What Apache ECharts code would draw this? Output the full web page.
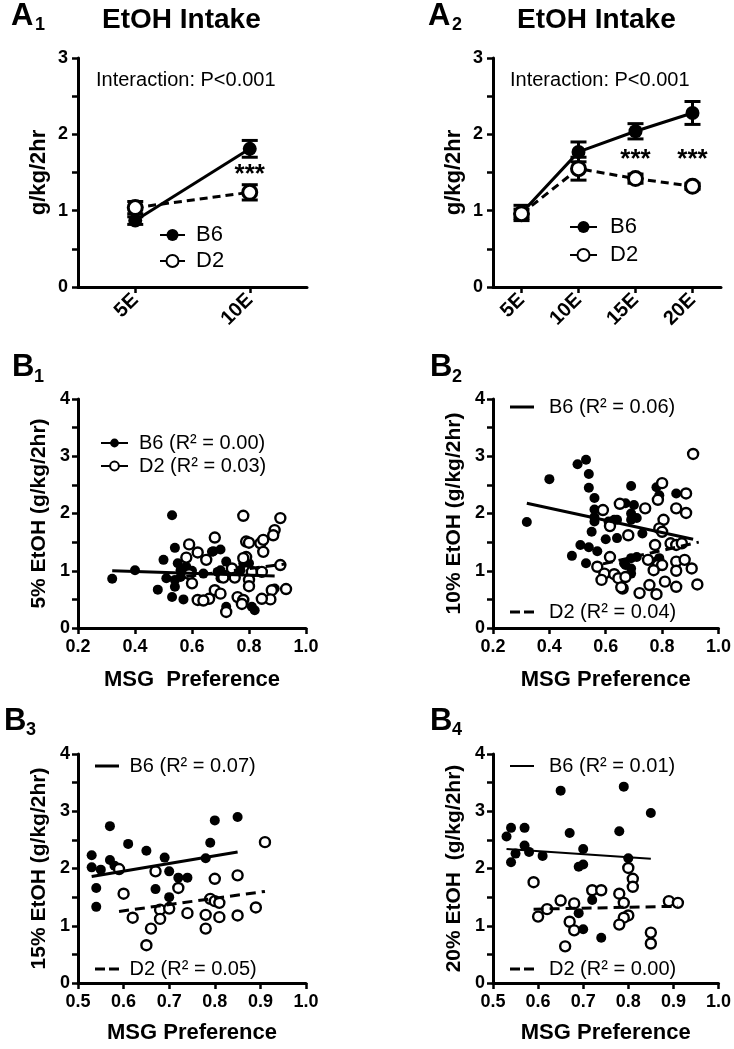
<!DOCTYPE html>
<html><head><meta charset="utf-8">
<script src="https://cdn.jsdelivr.net/npm/echarts@6/dist/echarts.min.js"></script>
<style>html,body{margin:0;padding:0;background:#fff}#c{width:734px;height:1049px}</style>
</head><body><div id="c"></div>
<script>
const FONT = "'Liberation Sans', Arial, Helvetica, sans-serif";

// ---------- A1 ----------
const a1Categories = ['5E', '10E'];
const a1B6Mean = [0.87, 1.81];
const a1B6Err = [0.05, 0.11];
const a1D2Mean = [1.04, 1.24];
const a1D2Err = [0.08, 0.10];
const a1Stars = [['10E', 1.47]];

// ---------- A2 ----------
const a2Categories = ['5E', '10E', '15E', '20E'];
const a2B6Mean = [0.97, 1.77, 2.04, 2.28];
const a2B6Err = [0.10, 0.13, 0.10, 0.15];
const a2D2Mean = [0.96, 1.55, 1.42, 1.32];
const a2D2Err = [0.06, 0.15, 0.06, 0.04];
const a2Stars = [['15E', 1.67], ['20E', 1.67]];

// ---------- B1 (5% EtOH) ----------
const b1B6 = [[0.32,0.86],[0.40,1.01],[0.48,0.67],[0.50,1.19],[0.51,0.87],[0.53,1.97],[0.53,0.54],[0.54,1.40],[0.54,0.84],[0.54,0.72],[0.55,1.13],[0.56,0.89],[0.56,1.01],[0.57,0.50],[0.58,1.07],[0.58,0.95],[0.60,1.00],[0.64,0.95],[0.67,1.33],[0.675,1.34],[0.69,0.98],[0.70,1.37],[0.70,1.01],[0.70,0.87],[0.72,1.16],[0.72,0.37],[0.77,1.01],[0.78,1.13],[0.80,1.13],[0.81,0.37],[0.82,0.31],[0.89,0.69]];
const b1D2 = [[0.59,1.46],[0.62,1.32],[0.58,1.23],[0.65,1.19],[0.68,1.58],[0.59,0.94],[0.60,0.78],[0.62,0.49],[0.66,0.51],[0.68,0.66],[0.64,0.48],[0.78,1.96],[0.91,1.92],[0.89,1.71],[0.885,1.62],[0.79,1.51],[0.80,1.49],[0.84,1.48],[0.85,1.54],[0.85,1.33],[0.79,1.24],[0.78,1.22],[0.91,1.10],[0.74,1.04],[0.81,0.98],[0.845,0.98],[0.75,0.88],[0.80,0.84],[0.80,0.73],[0.93,0.68],[0.88,0.66],[0.875,0.50],[0.76,0.54],[0.78,0.49],[0.845,0.51],[0.775,0.42],[0.72,0.28],[0.70,0.60],[0.71,0.88]];
const b1B6Fit = [[0.32,1.00],[0.89,0.91]];
const b1D2Fit = [[0.58,0.90],[0.93,1.12]];

// ---------- B2 (10% EtOH) ----------
const b2B6 = [[0.32,1.85],[0.40,2.60],[0.50,2.86],[0.53,2.94],[0.54,2.69],[0.54,2.45],[0.56,2.27],[0.56,2.07],[0.56,1.94],[0.56,1.86],[0.55,1.68],[0.51,1.45],[0.54,1.41],[0.57,1.34],[0.48,1.26],[0.53,1.13],[0.60,1.55],[0.64,1.89],[0.67,1.10],[0.69,2.48],[0.85,2.35],[0.78,2.46],[0.79,2.32],[0.67,2.18],[0.70,2.15],[0.69,2.00],[0.71,1.92],[0.69,1.89],[0.63,1.89],[0.61,1.86],[0.73,1.65],[0.64,1.57],[0.665,1.13],[0.69,1.22],[0.71,1.24],[0.69,0.95],[0.69,1.04],[0.79,1.22],[0.78,1.16]];
const b2D2 = [[0.59,2.06],[0.65,2.17],[0.615,1.78],[0.57,1.07],[0.595,0.95],[0.585,0.84],[0.63,0.94],[0.645,0.87],[0.66,0.69],[0.615,1.24],[0.67,0.89],[0.91,3.04],[0.80,2.53],[0.885,2.35],[0.785,2.24],[0.85,2.09],[0.885,2.01],[0.74,2.09],[0.805,1.89],[0.79,1.74],[0.80,1.68],[0.68,1.62],[0.83,1.48],[0.85,1.45],[0.87,1.48],[0.775,1.45],[0.75,1.19],[0.785,1.10],[0.80,1.10],[0.85,1.16],[0.88,1.19],[0.905,1.04],[0.85,1.00],[0.77,1.01],[0.755,0.75],[0.81,0.81],[0.85,0.72],[0.925,0.76],[0.655,0.71],[0.72,0.61],[0.78,0.59]];
const b2B6Fit = [[0.32,2.18],[0.91,1.55]];
const b2D2Fit = [[0.59,1.12],[0.93,1.50]];

// ---------- B3 (15% EtOH) ----------
const b3B6 = [[0.53,2.23],[0.53,2.02],[0.55,1.98],[0.57,2.74],[0.57,2.15],[0.58,2.05],[0.54,1.66],[0.54,1.33],[0.61,2.43],[0.65,2.31],[0.69,2.19],[0.70,1.95],[0.72,1.84],[0.74,1.84],[0.67,1.64],[0.70,1.50],[0.70,1.33],[0.80,2.84],[0.85,2.90],[0.79,2.45],[0.78,2.18]];
const b3D2 = [[0.59,1.99],[0.91,2.46],[0.67,1.95],[0.80,1.82],[0.85,1.88],[0.72,1.66],[0.60,1.56],[0.79,1.47],[0.80,1.43],[0.81,1.40],[0.68,1.28],[0.62,1.14],[0.68,1.12],[0.74,1.22],[0.78,1.19],[0.81,1.15],[0.85,1.18],[0.89,1.32],[0.66,0.95],[0.78,0.95],[0.65,0.66],[0.70,1.30]];
const b3B6Fit = [[0.53,1.86],[0.85,2.29]];
const b3D2Fit = [[0.59,1.25],[0.91,1.60]];

// ---------- B4 (20% EtOH) ----------
const b4B6 = [[0.53,2.56],[0.54,2.71],[0.57,2.71],[0.57,2.40],[0.55,2.26],[0.54,2.11],[0.58,2.29],[0.61,2.22],[0.65,3.36],[0.67,2.62],[0.70,2.34],[0.69,2.03],[0.70,2.07],[0.79,3.43],[0.85,2.97],[0.78,2.65],[0.80,2.18],[0.72,1.45],[0.69,1.22],[0.70,0.94],[0.74,0.79]];
const b4D2 = [[0.59,1.76],[0.65,1.44],[0.62,1.29],[0.60,1.16],[0.68,1.39],[0.67,1.07],[0.68,0.92],[0.66,0.64],[0.72,1.62],[0.74,1.62],[0.78,1.56],[0.79,1.40],[0.80,2.01],[0.81,1.82],[0.81,1.68],[0.80,1.18],[0.79,1.14],[0.78,1.02],[0.85,0.88],[0.85,0.69],[0.89,1.43],[0.91,1.40]];
const b4B6Fit = [[0.53,2.34],[0.85,2.17]];
const b4D2Fit = [[0.59,1.29],[0.91,1.34]];

// ---------- texts ----------
const legendNames = {
  b1B6: 'B6 (R² = 0.00)', b1D2: 'D2 (R² = 0.03)',
  b2B6: 'B6 (R² = 0.06)', b2D2: 'D2 (R² = 0.04)',
  b3B6: 'B6 (R² = 0.07)', b3D2: 'D2 (R² = 0.05)',
  b4B6: 'B6 (R² = 0.01)', b4D2: 'D2 (R² = 0.00)'
};
const yNames = ['g/kg/2hr', 'g/kg/2hr', '5% EtOH (g/kg/2hr)', '10% EtOH (g/kg/2hr)', '15% EtOH (g/kg/2hr)', '20% EtOH  (g/kg/2hr)'];
const xNames = ['MSG  Preference', 'MSG Preference', 'MSG Preference', 'MSG Preference'];

// ---------- styles ----------
const BLACK = '#000';
const axisLine = { show: true, onZero: false, lineStyle: { color: BLACK, width: 3 } };
const axisTick = { show: true, length: 6, lineStyle: { color: BLACK, width: 2.5 } };
const intLabel = v => (Math.abs(v - Math.round(v)) < 1e-9 ? String(Math.round(v)) : '');

const grids = [
  { left: 78, top: 58, width: 229, height: 229 },
  { left: 493, top: 58, width: 228, height: 229 },
  { left: 78, top: 399, width: 228, height: 229 },
  { left: 493, top: 399, width: 229, height: 229 },
  { left: 78, top: 754, width: 228, height: 229 },
  { left: 493, top: 754, width: 228, height: 229 }
];

const xAxes = [
  { gridIndex: 0, type: 'category', data: a1Categories },
  { gridIndex: 1, type: 'category', data: a2Categories },
  { gridIndex: 2, type: 'value', min: 0.2, max: 1.0, interval: 0.2 },
  { gridIndex: 3, type: 'value', min: 0.2, max: 1.0, interval: 0.2 },
  { gridIndex: 4, type: 'value', min: 0.5, max: 1.0, interval: 0.1 },
  { gridIndex: 5, type: 'value', min: 0.5, max: 1.0, interval: 0.1 }
].map((a, i) => {
  const isCat = a.type === 'category';
  return Object.assign(a, {
    axisLine, splitLine: { show: false },
    axisTick: Object.assign({ alignWithLabel: true }, axisTick),
    axisLabel: isCat
      ? { rotate: 45, margin: 10, fontSize: 20, fontWeight: 'bold', color: BLACK, fontFamily: FONT }
      : { margin: 10, fontSize: 18, fontWeight: 'bold', color: BLACK, fontFamily: FONT, formatter: v => v.toFixed(1) },
    name: isCat ? '' : xNames[i - 2],
    nameLocation: 'middle',
    nameGap: i < 4 ? 41 : 39,
    nameTextStyle: { fontSize: 22, fontWeight: 'bold', color: BLACK, fontFamily: FONT }
  });
});

const yAxes = grids.map((g, i) => ({
  gridIndex: i, type: 'value', min: 0, max: i < 2 ? 3 : 4, interval: 0.5,
  axisLine, axisTick, splitLine: { show: false },
  axisLabel: { margin: i < 2 ? 10 : 8, fontSize: 18, fontWeight: 'bold', color: BLACK, fontFamily: FONT, formatter: intLabel },
  name: yNames[i], nameLocation: 'middle', nameRotate: 90, nameGap: 28,
  nameTextStyle: { fontSize: i < 2 ? 22 : 21, fontWeight: 'bold', color: BLACK, fontFamily: FONT }
}));

function errRender(params, api) {
  const x = api.value(0), m = api.value(1), e = api.value(2);
  const top = api.coord([x, m + e]);
  const bot = api.coord([x, m - e]);
  const hw = 8;
  const style = { stroke: BLACK, lineWidth: 3, fill: null };
  return {
    type: 'group', children: [
      { type: 'line', shape: { x1: top[0], y1: top[1], x2: bot[0], y2: bot[1] }, style },
      { type: 'line', shape: { x1: top[0] - hw, y1: top[1], x2: top[0] + hw, y2: top[1] }, style },
      { type: 'line', shape: { x1: bot[0] - hw, y1: bot[1], x2: bot[0] + hw, y2: bot[1] }, style }
    ]
  };
}

const filledItem = { color: BLACK, opacity: 1 };
const openItem = { color: '#fff', borderColor: BLACK, borderWidth: 3, opacity: 1 };

function aSeries(gi, cats, b6m, b6e, d2m, d2e, stars) {
  return [
    { type: 'custom', xAxisIndex: gi, yAxisIndex: gi, z: 2, renderItem: errRender, encode: { x: 0, y: 1 },
      data: cats.map((c, i) => [i, b6m[i], b6e[i]]) },
    { type: 'custom', xAxisIndex: gi, yAxisIndex: gi, z: 2, renderItem: errRender, encode: { x: 0, y: 1 },
      data: cats.map((c, i) => [i, d2m[i], d2e[i]]) },
    { name: 'B6', type: 'line', xAxisIndex: gi, yAxisIndex: gi, z: 3, data: b6m, symbol: 'circle', symbolSize: 14,
      itemStyle: filledItem, lineStyle: { color: BLACK, width: 3 } },
    { name: 'D2', type: 'line', xAxisIndex: gi, yAxisIndex: gi, z: 4, data: d2m, symbol: 'circle', symbolSize: 14,
      itemStyle: openItem, lineStyle: { color: BLACK, width: 3, type: [8, 5] } },
    { type: 'scatter', xAxisIndex: gi, yAxisIndex: gi, z: 5, data: stars, symbolSize: 0, silent: true,
      itemStyle: { opacity: 1, color: BLACK },
      label: { show: true, position: 'inside', formatter: '***', fontSize: 26, fontWeight: 'bold', color: BLACK, opacity: 1, fontFamily: FONT } }
  ];
}

function bSeries(gi, b6, d2, b6Fit, d2Fit, n6, n2, b6Width, withSymbol) {
  return [
    { type: 'scatter', xAxisIndex: gi, yAxisIndex: gi, z: 2, data: b6, symbol: 'circle', symbolSize: 10, itemStyle: { color: BLACK, opacity: 1 } },
    { type: 'scatter', xAxisIndex: gi, yAxisIndex: gi, z: 3, data: d2, symbol: 'circle', symbolSize: 10,
      itemStyle: { color: '#fff', borderColor: BLACK, borderWidth: 2.4, opacity: 1 } },
    { name: n6, type: 'line', xAxisIndex: gi, yAxisIndex: gi, z: 4, data: b6Fit, showSymbol: false,
      symbol: withSymbol ? 'circle' : 'none', symbolSize: 9, itemStyle: { color: BLACK },
      lineStyle: { color: BLACK, width: b6Width } },
    { name: n2, type: 'line', xAxisIndex: gi, yAxisIndex: gi, z: 4, data: d2Fit, showSymbol: false,
      symbol: withSymbol ? 'circle' : 'none', symbolSize: 9,
      itemStyle: withSymbol ? { color: '#fff', borderColor: BLACK, borderWidth: 2.4 } : { color: BLACK },
      lineStyle: { color: BLACK, width: 3, type: [10, 6] } }
  ];
}

const series = [].concat(
  aSeries(0, a1Categories, a1B6Mean, a1B6Err, a1D2Mean, a1D2Err, a1Stars),
  aSeries(1, a2Categories, a2B6Mean, a2B6Err, a2D2Mean, a2D2Err, a2Stars),
  bSeries(2, b1B6, b1D2, b1B6Fit, b1D2Fit, legendNames.b1B6, legendNames.b1D2, 3, true),
  bSeries(3, b2B6, b2D2, b2B6Fit, b2D2Fit, legendNames.b2B6, legendNames.b2D2, 3, false),
  bSeries(4, b3B6, b3D2, b3B6Fit, b3D2Fit, legendNames.b3B6, legendNames.b3D2, 3, false),
  bSeries(5, b4B6, b4D2, b4B6Fit, b4D2Fit, legendNames.b4B6, legendNames.b4D2, 2, false)
);

const SOLID_ICON = 'path://M0,0H24V3H0Z';
const DASH_ICON = 'path://M0,0H10V3H0Z M14,0H24V3H14Z';
const legText = (size, pad) => ({ fontSize: size, color: BLACK, fontFamily: FONT, padding: [0, 0, 0, pad] });
const legBase = { orient: 'vertical', padding: 0, selectedMode: false };
const legend = [
  Object.assign({ data: ['B6', 'D2'], left: 159, top: 224, itemWidth: 25, itemHeight: 15, itemGap: 4,
    lineStyle: { type: 'solid' }, textStyle: legText(22, 6) }, legBase),
  Object.assign({ data: ['B6', 'D2'], left: 569, top: 216, itemWidth: 27, itemHeight: 15, itemGap: 6,
    lineStyle: { type: 'solid' }, textStyle: legText(22, 8) }, legBase),
  Object.assign({ data: [legendNames.b1B6, legendNames.b1D2], left: 100, top: 433, itemWidth: 27, itemHeight: 11, itemGap: 3,
    lineStyle: { type: 'solid' }, textStyle: legText(20, 6) }, legBase),
  Object.assign({ data: [legendNames.b2B6], left: 510, top: 397, icon: SOLID_ICON, itemWidth: 24, itemHeight: 3, textStyle: legText(20, 10) }, legBase),
  Object.assign({ data: [legendNames.b2D2], left: 510, top: 602, icon: DASH_ICON, itemWidth: 24, itemHeight: 3, textStyle: legText(20, 10) }, legBase),
  Object.assign({ data: [legendNames.b3B6], left: 95, top: 756, icon: SOLID_ICON, itemWidth: 25, itemHeight: 3, textStyle: legText(20, 5) }, legBase),
  Object.assign({ data: [legendNames.b3D2], left: 95, top: 959, icon: DASH_ICON, itemWidth: 25, itemHeight: 3, textStyle: legText(20, 5) }, legBase),
  Object.assign({ data: [legendNames.b4B6], left: 510, top: 756, icon: 'path://M0,0H24V2H0Z', itemWidth: 24, itemHeight: 2, textStyle: legText(20, 10) }, legBase),
  Object.assign({ data: [legendNames.b4D2], left: 510, top: 959, icon: DASH_ICON, itemWidth: 24, itemHeight: 3, textStyle: legText(20, 10) }, legBase)
];

function txt(x, y, text, size, weight) {
  return { type: 'text', x, y, silent: true,
    style: { text, fontSize: size, fontWeight: weight, fontFamily: FONT, fill: BLACK, verticalAlign: 'middle', align: 'left' } };
}
const graphic = [
  txt(11, 16, 'A', 31, 'bold'), txt(35, 25, '1', 18, 'bold'),
  txt(428, 16, 'A', 31, 'bold'), txt(452, 25, '2', 18, 'bold'),
  txt(102, 20, 'EtOH Intake', 28, 'bold'),
  txt(517, 20, 'EtOH Intake', 28, 'bold'),
  txt(96, 80, 'Interaction: P<0.001', 20, 'normal'),
  txt(510, 80, 'Interaction: P<0.001', 20, 'normal'),
  txt(12, 367, 'B', 31, 'bold'), txt(34, 377, '1', 18, 'bold'),
  txt(430, 367, 'B', 31, 'bold'), txt(452, 377, '2', 18, 'bold'),
  txt(4, 721, 'B', 31, 'bold'), txt(26, 730, '3', 18, 'bold'),
  txt(430, 721, 'B', 31, 'bold'), txt(452, 730, '4', 18, 'bold')
];

const chart = echarts.init(document.getElementById('c'), null, { renderer: 'canvas' });
chart.setOption({
  animation: false,
  backgroundColor: '#fff',
  textStyle: { fontFamily: FONT },
  grid: grids,
  xAxis: xAxes,
  yAxis: yAxes,
  legend,
  graphic,
  series
});
</script>
</body></html>
